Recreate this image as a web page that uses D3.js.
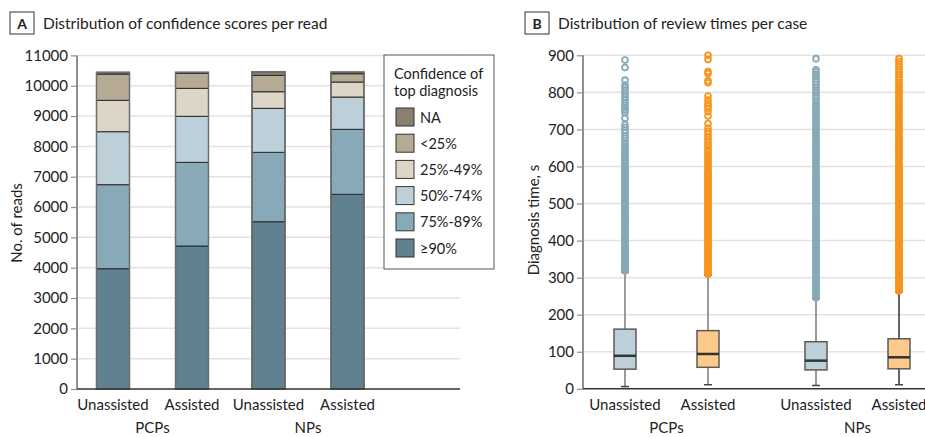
<!DOCTYPE html>
<html>
<head>
<meta charset="utf-8">
<script src="https://cdn.jsdelivr.net/npm/d3@7"></script>
<style>
  html, body { margin: 0; padding: 0; background: #fff; }
  svg { display: block; font-family: Lato, "Open Sans", sans-serif; }
</style>
</head>
<body>
<svg id="chart" width="925" height="437"></svg>
<script>
// ---- Panel A data: reads per confidence band (stacked bottom -> top) ----
const groups = ["PCPs", "NPs"];
const conditions = ["Unassisted", "Assisted"];
const bands = ["≥90%", "75%-89%", "50%-74%", "25%-49%", "<25%", "NA"];
const bandColors = ["#5f8190", "#87a9b8", "#bdd0d9", "#ddd5c5", "#b6aa94", "#8b7f70"];
const pcpUnassistedReads = [3965, 2772, 1747, 1034, 868, 56];
const pcpAssistedReads   = [4715, 2759, 1517, 923, 495, 33];
const npUnassistedReads  = [5516, 2288, 1451, 547, 541, 119];
const npAssistedReads    = [6419, 2143, 1065, 495, 274, 54];
const readTicks = [0, 1000, 2000, 3000, 4000, 5000, 6000, 7000, 8000, 9000, 10000, 11000];

// ---- Panel B data: review time box plots (seconds) ----
const timeTicks = [0, 100, 200, 300, 400, 500, 600, 700, 800, 900];
const pcpUnassistedBox = { low: 6, q1: 53, median: 89, q3: 161, high: 315 };
const pcpAssistedBox   = { low: 11, q1: 58, median: 94, q3: 157, high: 307 };
const npUnassistedBox  = { low: 9, q1: 51, median: 76, q3: 127, high: 244 };
const npAssistedBox    = { low: 11, q1: 54, median: 85, q3: 135, high: 262 };

const pcpUnassistedOutliers = [318, 322, 326, 331, 335, 340, 344, 349, 353, 358, 362, 367, 371, 376, 380, 385, 390, 394, 399, 403, 408, 412, 417, 421, 426, 431, 435, 440, 444, 449, 453, 458, 463, 467, 472, 476, 481, 486, 490, 495, 499, 504, 509, 513, 518, 522, 527, 532, 536, 541, 545, 550, 555, 559, 564, 568, 573, 578, 582, 587, 592, 597, 603, 608, 614, 619, 625, 631, 636, 642, 648, 655, 661, 668, 676, 683, 691, 698, 706, 713, 730, 745, 752, 758, 765, 772, 780, 788, 797, 806, 813, 820, 833, 867, 887];
const pcpAssistedOutliers = [309, 313, 317, 322, 326, 331, 335, 340, 344, 349, 353, 358, 362, 367, 371, 376, 380, 385, 389, 394, 398, 403, 407, 412, 417, 421, 426, 430, 435, 439, 444, 449, 453, 458, 462, 467, 472, 476, 481, 485, 490, 495, 499, 504, 508, 513, 518, 522, 527, 532, 536, 541, 546, 550, 555, 560, 565, 570, 575, 580, 586, 591, 597, 603, 609, 615, 621, 627, 633, 640, 646, 653, 660, 667, 674, 681, 688, 695, 703, 716, 736, 748, 757, 763, 770, 779, 790, 826, 831, 851, 856, 889, 900];
const npUnassistedOutliers = [246, 250, 254, 258, 262, 266, 271, 275, 279, 283, 287, 292, 296, 300, 304, 309, 313, 317, 321, 326, 330, 334, 339, 343, 347, 352, 356, 360, 365, 369, 373, 378, 382, 386, 391, 395, 400, 404, 408, 413, 417, 422, 426, 430, 435, 439, 444, 448, 453, 457, 462, 466, 471, 478, 484, 489, 494, 498, 503, 508, 512, 517, 521, 526, 531, 535, 540, 545, 549, 554, 559, 563, 568, 573, 578, 585, 592, 598, 604, 610, 616, 622, 628, 634, 640, 646, 652, 658, 664, 670, 676, 683, 689, 695, 701, 707, 714, 720, 726, 733, 739, 745, 752, 758, 765, 771, 778, 785, 792, 799, 806, 813, 820, 828, 835, 842, 849, 855, 861, 891];
const npAssistedOutliers = [264, 268, 272, 276, 280, 284, 288, 292, 296, 300, 304, 308, 312, 316, 320, 324, 328, 332, 336, 340, 344, 348, 352, 356, 360, 364, 368, 372, 376, 380, 384, 388, 392, 396, 400, 404, 408, 412, 416, 420, 424, 428, 432, 436, 440, 444, 448, 452, 456, 460, 464, 468, 472, 476, 480, 484, 488, 492, 496, 500, 504, 508, 512, 516, 520, 524, 528, 532, 536, 540, 545, 549, 553, 558, 562, 567, 571, 576, 580, 585, 590, 594, 599, 604, 609, 614, 619, 624, 629, 634, 639, 644, 649, 654, 659, 664, 669, 674, 680, 685, 690, 696, 701, 707, 712, 718, 724, 730, 736, 742, 748, 754, 760, 766, 772, 778, 784, 790, 796, 802, 808, 814, 820, 827, 834, 841, 848, 855, 862, 869, 876, 883, 891];

const barRows = [
  { group: "PCPs", cond: "Unassisted", values: pcpUnassistedReads },
  { group: "PCPs", cond: "Assisted",   values: pcpAssistedReads },
  { group: "NPs",  cond: "Unassisted", values: npUnassistedReads },
  { group: "NPs",  cond: "Assisted",   values: npAssistedReads }
];
const boxRows = [
  { group: "PCPs", cond: "Unassisted", stats: pcpUnassistedBox, outliers: pcpUnassistedOutliers },
  { group: "PCPs", cond: "Assisted",   stats: pcpAssistedBox,   outliers: pcpAssistedOutliers },
  { group: "NPs",  cond: "Unassisted", stats: npUnassistedBox,  outliers: npUnassistedOutliers },
  { group: "NPs",  cond: "Assisted",   stats: npAssistedBox,    outliers: npAssistedOutliers }
];

const svg = d3.select("#chart");
const gridColor = "#e2e2e2";
const axisGray = "#8f8f8f";
const textColor = "#222";

function panelHeader(x, letter, title) {
  const g = svg.append("g");
  g.append("rect").attr("x", x).attr("y", 12).attr("width", 24).attr("height", 22)
    .attr("fill", "#fff").attr("stroke", "#333").attr("stroke-width", 1);
  g.append("text").attr("x", x + 12).attr("y", 28.5).attr("text-anchor", "middle")
    .attr("font-weight", "bold").attr("font-size", 14).attr("fill", textColor).text(letter);
  g.append("text").attr("x", x + 33).attr("y", 29).attr("font-size", 15.5)
    .attr("fill", textColor).text(title);
}

function leftAxis(x, yScale, ticks, fmt, right) {
  // grid lines
  svg.append("g").selectAll("line").data(ticks.filter(t => t > 0)).join("line")
    .attr("x1", x).attr("x2", right)
    .attr("y1", d => yScale(d)).attr("y2", d => yScale(d))
    .attr("stroke", gridColor).attr("stroke-width", 1.5);
  const ax = svg.append("g").attr("transform", `translate(${x},0)`)
    .call(d3.axisLeft(yScale).tickValues(ticks).tickFormat(fmt).tickSize(6).tickPadding(3));
  ax.select(".domain").attr("stroke", axisGray).attr("stroke-width", 2)
    .attr("d", `M0,${yScale(ticks[0])}V${yScale(ticks[ticks.length - 1])}`);
  ax.selectAll(".tick line").attr("stroke", axisGray).attr("stroke-width", 1.2);
  ax.selectAll(".tick text").attr("font-size", 15).attr("fill", textColor)
    .attr("font-family", "Lato, sans-serif");
  return ax;
}

// ================= Panel A =================
panelHeader(10, "A", "Distribution of confidence scores per read");

const yA = d3.scaleLinear().domain([0, 11000]).range([389, 55.4]);
const axA = 77, rightA = 460;
const xGroupA = d3.scalePoint().domain(groups).range([152.5, 308]);
const xCondA = d3.scalePoint().domain(conditions).range([-39.5, 39.5]);
const barW = 33;

leftAxis(axA, yA, readTicks, d3.format("d"), rightA);

const stackA = d3.stack().keys(d3.range(bands.length))
  .value((row, k) => row.values[k]);
const seriesA = stackA(barRows);

const barG = svg.append("g");
seriesA.forEach((layer, k) => {
  barG.selectAll(null).data(layer).join("rect")
    .attr("x", d => xGroupA(d.data.group) + xCondA(d.data.cond) - barW / 2)
    .attr("width", barW)
    .attr("y", d => yA(d[1]))
    .attr("height", d => yA(d[0]) - yA(d[1]))
    .attr("fill", bandColors[k])
    .attr("stroke", "#2a2a2a").attr("stroke-width", 1);
});
// outer outline of each bar
barG.selectAll(".outline").data(barRows).join("rect")
  .attr("class", "outline")
  .attr("x", d => xGroupA(d.group) + xCondA(d.cond) - barW / 2)
  .attr("width", barW)
  .attr("y", d => yA(d3.sum(d.values)))
  .attr("height", d => yA(0) - yA(d3.sum(d.values)))
  .attr("fill", "none").attr("stroke", "#6e6e6e").attr("stroke-width", 1.5);

// baseline
svg.append("line").attr("x1", axA).attr("x2", rightA)
  .attr("y1", yA(0)).attr("y2", yA(0)).attr("stroke", "#333").attr("stroke-width", 1.5);

// x labels
svg.append("g").selectAll("text").data(barRows).join("text")
  .attr("x", d => xGroupA(d.group) + xCondA(d.cond)).attr("y", 410)
  .attr("text-anchor", "middle").attr("font-size", 15).attr("fill", textColor)
  .text(d => d.cond);
svg.append("g").selectAll("text").data(groups).join("text")
  .attr("x", d => xGroupA(d)).attr("y", 433)
  .attr("text-anchor", "middle").attr("font-size", 15).attr("fill", textColor)
  .text(d => d);

svg.append("text").attr("transform", "translate(22,223) rotate(-90)")
  .attr("text-anchor", "middle").attr("font-size", 15).attr("fill", textColor)
  .text("No. of reads");

// legend
const leg = svg.append("g").attr("transform", "translate(384,55)");
leg.append("rect").attr("width", 110).attr("height", 214)
  .attr("fill", "#fff").attr("stroke", "#555").attr("stroke-width", 1);
leg.append("text").attr("x", 10).attr("y", 24).attr("font-size", 14.5).attr("fill", textColor)
  .text("Confidence of");
leg.append("text").attr("x", 10).attr("y", 41).attr("font-size", 14.5).attr("fill", textColor)
  .text("top diagnosis");
const legendOrder = d3.range(bands.length).reverse();
const legY = d3.scalePoint().domain(legendOrder).range([62, 193]);
const legItems = leg.selectAll(".item").data(legendOrder).join("g")
  .attr("class", "item")
  .attr("transform", k => `translate(12,${legY(k) - 9})`);
legItems.append("rect").attr("width", 18).attr("height", 18)
  .attr("fill", k => bandColors[k]).attr("stroke", "#333").attr("stroke-width", 1);
legItems.append("text").attr("x", 24).attr("y", 14.5).attr("font-size", 14.5)
  .attr("fill", textColor).text(k => bands[k]);

// ================= Panel B =================
panelHeader(525, "B", "Distribution of review times per case");

const yB = d3.scaleLinear().domain([0, 900]).range([388.8, 55.3]);
const axB = 583, rightB = 925;
const xGroupB = d3.scalePoint().domain(groups).range([666.5, 857.5]);
const xCondB = d3.scalePoint().domain(conditions).range([-41.5, 41.5]);
const boxW = 22;
const boxFill = { Unassisted: "#bdd0d9", Assisted: "#fdca8b" };
const outlierStroke = { Unassisted: "#86a9b8", Assisted: "#f7941d" };

leftAxis(axB, yB, timeTicks, d3.format("d"), rightB);

const boxG = svg.append("g");
boxRows.forEach((row, i) => {
  const cx = xGroupB(row.group) + xCondB(row.cond);
  const s = row.stats;
  const wColor = i === 3 ? "#333" : "#7a7a7a";
  const g = boxG.append("g");
  // whiskers
  g.append("line").attr("x1", cx).attr("x2", cx).attr("y1", yB(s.high)).attr("y2", yB(s.q3))
    .attr("stroke", wColor).attr("stroke-width", 1.5);
  g.append("line").attr("x1", cx).attr("x2", cx).attr("y1", yB(s.q1)).attr("y2", yB(s.low))
    .attr("stroke", wColor).attr("stroke-width", 1.5);
  [s.low, s.high].forEach(v => {
    g.append("line").attr("x1", cx - 4).attr("x2", cx + 4).attr("y1", yB(v)).attr("y2", yB(v))
      .attr("stroke", "#444").attr("stroke-width", 1.5);
  });
  // outliers
  g.selectAll("circle").data(row.outliers).join("circle")
    .attr("cx", cx).attr("cy", d => yB(d)).attr("r", 2.9)
    .attr("fill", "none").attr("stroke", outlierStroke[row.cond]).attr("stroke-width", 1.8);
  // box
  g.append("rect").attr("x", cx - boxW / 2).attr("width", boxW)
    .attr("y", yB(s.q3)).attr("height", yB(s.q1) - yB(s.q3))
    .attr("fill", boxFill[row.cond]).attr("stroke", "#5a5a5a").attr("stroke-width", 1.5);
  g.append("line").attr("x1", cx - boxW / 2).attr("x2", cx + boxW / 2)
    .attr("y1", yB(s.median)).attr("y2", yB(s.median))
    .attr("stroke", "#333").attr("stroke-width", 2.5);
});

svg.append("line").attr("x1", axB).attr("x2", rightB)
  .attr("y1", yB(0)).attr("y2", yB(0)).attr("stroke", "#333").attr("stroke-width", 1.5);

svg.append("g").selectAll("text").data(boxRows).join("text")
  .attr("x", d => xGroupB(d.group) + xCondB(d.cond)).attr("y", 410)
  .attr("text-anchor", "middle").attr("font-size", 15).attr("fill", textColor)
  .text(d => d.cond);
svg.append("g").selectAll("text").data(groups).join("text")
  .attr("x", d => xGroupB(d)).attr("y", 433)
  .attr("text-anchor", "middle").attr("font-size", 15).attr("fill", textColor)
  .text(d => d);

svg.append("text").attr("transform", "translate(539,220) rotate(-90)")
  .attr("text-anchor", "middle").attr("font-size", 15).attr("fill", textColor)
  .text("Diagnosis time, s");
</script>
</body>
</html>
